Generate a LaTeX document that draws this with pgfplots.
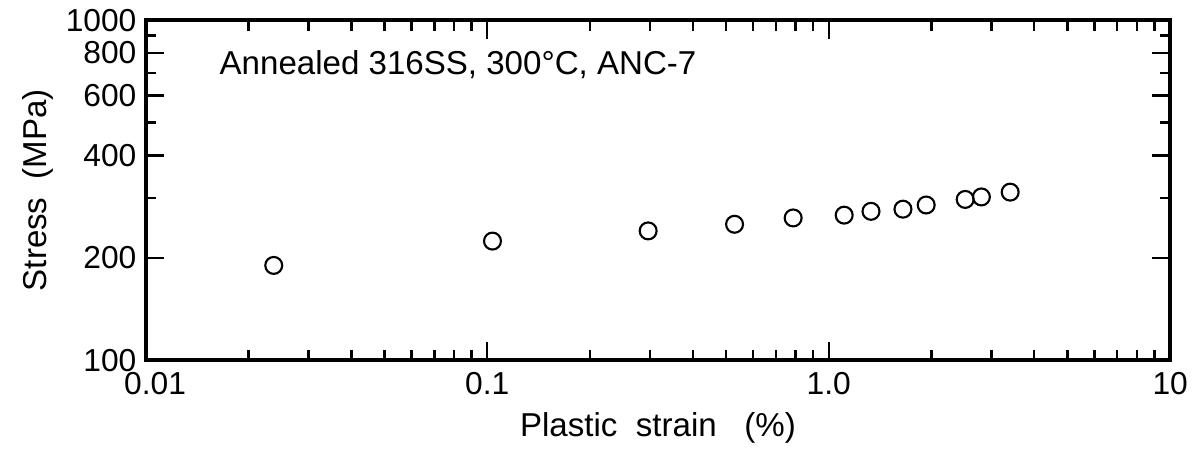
\documentclass[border=0pt]{standalone}
\usepackage{fontspec}
\setmainfont{Liberation Sans}
\usepackage{pgfplots}
\pgfplotsset{compat=1.18}

\begin{document}
\begin{tikzpicture}
\begin{loglogaxis}[
  scale only axis, width=387pt, height=128.5pt,
  xmin=0.01, xmax=10, ymin=100, ymax=1000,
  xtick={0.01,0.1,1,10}, xticklabels={\hspace{7pt}0.01,0.1,1.0,10},
  minor xtick={0.02,0.03,0.04,0.05,0.06,0.07,0.08,0.09,
               0.2,0.3,0.4,0.5,0.6,0.7,0.8,0.9,
               2,3,4,5,6,7,8,9},
  ytick={100,200,400,600,800,1000},
  yticklabels={100,200,400,600,800,1000},
  minor ytick={300,500,700,900},
  tick align=inside,
  major tick length=7pt, minor tick length=4pt,
  every tick/.style={black, line width=0.9pt},
  axis line style={line width=1.5pt},
  /pgf/number format/assume math mode=true,
  tick label style={font=\fontsize{12}{14}\selectfont},
  label style={font=\fontsize{12.5}{14}\selectfont},
  xlabel={Plastic\ \ strain\ \ \ (\%)},
  ylabel={Stress\ \ (MPa)},
  ylabel style={yshift=-2pt},
  xticklabel style={yshift=-1pt},
]
% stress-strain points
\addplot[only marks, mark=o, mark size=3.2pt, line width=0.8pt, black]
coordinates {
(0.0237,190)(0.1036,224)(0.296,240)(0.530,251)(0.787,262)(1.11,267)
(1.33,274)(1.65,278)(1.93,286)(2.51,297)(2.80,302)(3.40,312)
};
\node[anchor=west, font=\fontsize{12.5}{14}\selectfont]
  at (rel axis cs:0.063,0.868) {Annealed\ 316SS,\ 300\textdegree C,\ ANC-7};
\end{loglogaxis}
% a little white room on both sides, as in the reference
\path (current bounding box.west) ++(-5pt,0) (current bounding box.east) ++(0.5pt,0);
\end{tikzpicture}
\end{document}
